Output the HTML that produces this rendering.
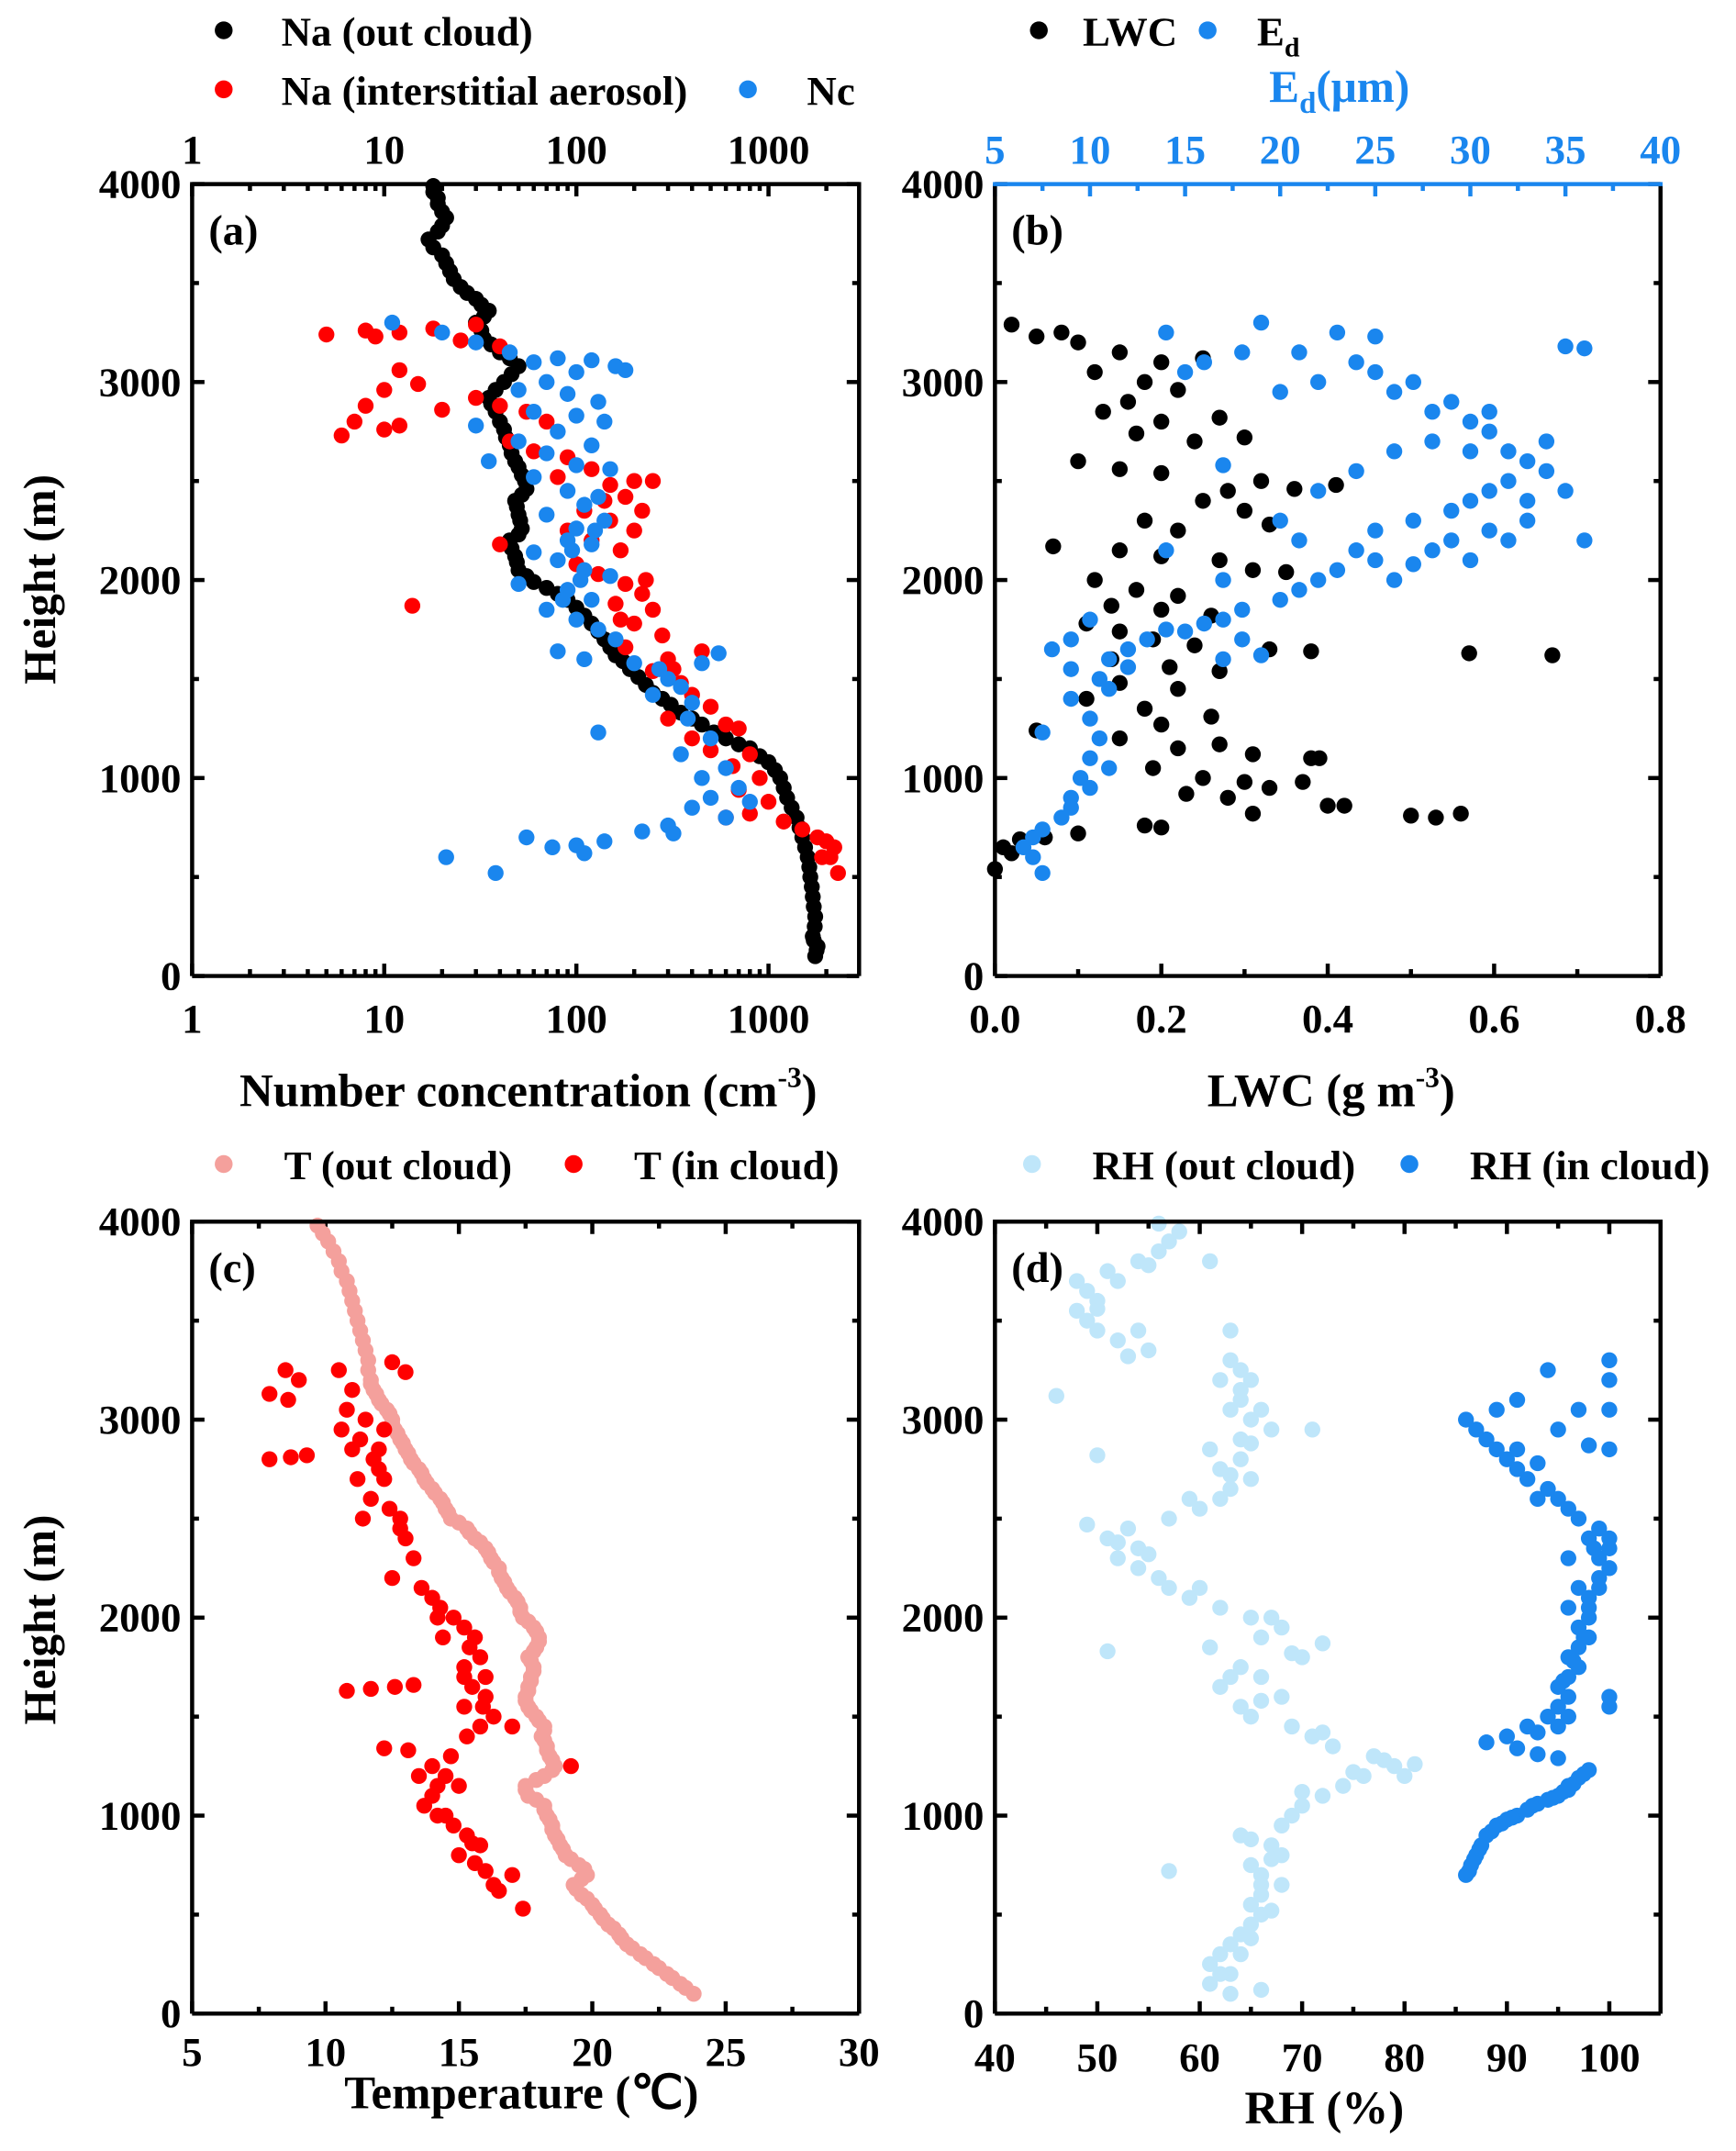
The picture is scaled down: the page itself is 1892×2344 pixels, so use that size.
<!DOCTYPE html>
<html><head><meta charset="utf-8">
<style>
html,body{margin:0;padding:0;background:#fff;}
svg{display:block;font-family:"Liberation Serif",serif;font-weight:bold;}
</style></head>
<body>
<svg id="chart" width="1892" height="2344" viewBox="0 0 1265 1567" xmlns="http://www.w3.org/2000/svg">
<g id="legends">
  <circle cx="163" cy="22" r="6.5" fill="#000"/>
  <text x="205" y="33" font-size="30">Na (out cloud)</text>
  <circle cx="163" cy="65" r="6.5" fill="#ff0000"/>
  <text x="205" y="76" font-size="30">Na (interstitial aerosol)</text>
  <circle cx="545" cy="65" r="6.5" fill="#1a86ee"/>
  <text x="588" y="76" font-size="30">Nc</text>
  <circle cx="757" cy="22" r="6.5" fill="#000"/>
  <text x="789" y="33" font-size="30">LWC</text>
  <circle cx="880" cy="22" r="6.5" fill="#1a86ee"/>
  <text x="916" y="33" font-size="30">E<tspan font-size="20" dy="8">d</tspan></text>
  <text x="976" y="74" font-size="33" fill="#1a86ee" text-anchor="middle">E<tspan font-size="22" dy="8">d</tspan><tspan dy="-8">(μm)</tspan></text>
  <circle cx="163" cy="848" r="6.5" fill="#f4a09c"/>
  <text x="207" y="859" font-size="30">T (out cloud)</text>
  <circle cx="418" cy="848" r="6.5" fill="#ff0000"/>
  <text x="462" y="859" font-size="30">T (in cloud)</text>
  <circle cx="752" cy="848" r="6.5" fill="#bfe6fa"/>
  <text x="796" y="859" font-size="30">RH (out cloud)</text>
  <circle cx="1027" cy="848" r="6.5" fill="#1a86ee"/>
  <text x="1071" y="859" font-size="30">RH (in cloud)</text>
</g>
</svg>
<script>
// ---- data (value, height m) ----
const naOut=[[1750,100],[1780,130],[1800,150],[1720,180],[1700,200],[1740,250],[1750,300],[1720,350],[1700,400],[1680,450],[1650,500],[1630,550],[1600,600],[1550,650],[1500,700],[1450,750],[1400,800],[1320,850],[1250,900],[1200,950],[1150,1000],[1080,1040],[1000,1080],[900,1110],[800,1150],[700,1170],[600,1200],[520,1230],[450,1270],[400,1300],[350,1330],[310,1370],[280,1400],[250,1430],[230,1470],[210,1510],[190,1550],[175,1590],[160,1620],[150,1660],[140,1700],[130,1740],[120,1780],[110,1820],[100,1860],[90,1900],[80,1930],[70,1960],[60,1990],[55,2020],[50,2050],[49,2090],[48,2120],[46,2160],[45,2200],[50,2230],[52,2260],[51,2300],[50,2330],[49,2370],[48,2400],[52,2430],[55,2460],[54,2500],[52,2530],[50,2570],[48,2600],[46,2640],[45,2680],[43,2720],[42,2760],[40,2800],[38,2850],[36,2890],[35,2920],[38,2960],[42,3000],[46,3040],[50,3080],[45,3120],[40,3150],[36,3190],[33,3220],[32,3260],[30,3300],[33,3330],[35,3360],[32,3390],[30,3420],[27,3450],[25,3480],[23,3520],[22,3560],[21,3600],[20,3640],[18,3680],[17,3720],[19,3760],[20,3790],[21,3830],[20,3860],[19,3900],[19,3930],[18,3960],[18,3990]];
const naInt=[[5,3240],[8,3260],[9,3230],[12,3250],[18,3270],[25,3210],[30,3290],[40,3180],[12,3060],[15,2990],[10,2960],[8,2880],[7,2800],[10,2760],[6,2730],[12,2780],[20,2860],[30,2920],[40,2880],[55,2850],[70,2800],[45,2700],[60,2650],[90,2620],[120,2560],[80,2520],[150,2480],[200,2500],[250,2500],[180,2420],[220,2350],[150,2300],[200,2250],[120,2200],[170,2150],[40,2180],[100,2080],[130,2030],[180,1980],[220,1930],[160,1880],[250,1850],[14,1870],[200,1780],[280,1720],[180,1660],[300,1600],[450,1640],[250,1540],[350,1480],[400,1420],[500,1360],[300,1300],[600,1270],[700,1250],[400,1200],[500,1140],[800,1120],[650,1060],[900,1000],[700,940],[1000,880],[800,820],[1200,780],[1500,740],[1800,700],[2200,650],[2100,600],[2300,520],[1900,600],[600,800],[2000,680],[140,2400],[110,2350],[230,2000],[170,1800],[320,1550],[90,2250]];
const nc=[[11,3300],[20,3250],[30,3200],[45,3150],[60,3100],[80,3120],[120,3110],[160,3080],[180,3060],[100,3050],[70,3000],[50,2960],[90,2940],[130,2900],[60,2850],[100,2830],[140,2800],[30,2780],[80,2750],[50,2700],[120,2680],[70,2640],[35,2600],[100,2580],[150,2560],[60,2520],[90,2450],[130,2420],[110,2380],[70,2330],[140,2300],[100,2260],[90,2200],[120,2180],[60,2140],[80,2100],[110,2050],[150,2020],[50,1980],[90,1950],[120,1900],[70,1850],[100,1800],[130,1750],[160,1700],[80,1640],[110,1600],[200,1580],[270,1550],[300,1500],[350,1460],[250,1420],[400,1380],[130,1230],[550,1630],[450,1580],[380,1300],[500,1200],[350,1120],[600,1050],[450,1000],[700,950],[500,900],[800,880],[400,850],[600,800],[300,760],[220,730],[140,680],[110,620],[100,660],[75,650],[55,700],[38,520],[21,600],[320,720],[105,2000],[95,2150],[125,2250],[85,1900]];
const lwc=[[0.02,3290],[0.05,3230],[0.08,3250],[0.1,3200],[0.15,3150],[0.2,3100],[0.25,3120],[0.12,3050],[0.18,3000],[0.22,2960],[0.16,2900],[0.13,2850],[0.2,2800],[0.27,2820],[0.17,2740],[0.24,2700],[0.3,2720],[0.1,2600],[0.15,2560],[0.2,2540],[0.32,2500],[0.28,2450],[0.36,2460],[0.41,2480],[0.25,2400],[0.3,2350],[0.18,2300],[0.22,2250],[0.33,2280],[0.07,2170],[0.15,2150],[0.2,2120],[0.27,2100],[0.31,2050],[0.35,2040],[0.12,2000],[0.17,1950],[0.22,1920],[0.14,1870],[0.2,1850],[0.26,1820],[0.11,1780],[0.15,1740],[0.19,1700],[0.24,1670],[0.33,1650],[0.38,1640],[0.57,1630],[0.67,1620],[0.14,1600],[0.21,1560],[0.27,1540],[0.15,1480],[0.22,1450],[0.11,1400],[0.18,1350],[0.26,1310],[0.05,1240],[0.2,1270],[0.15,1200],[0.22,1150],[0.27,1170],[0.31,1120],[0.38,1100],[0.39,1100],[0.19,1050],[0.25,1000],[0.3,980],[0.33,950],[0.37,980],[0.23,920],[0.28,900],[0.4,860],[0.42,860],[0.31,820],[0.5,810],[0.53,800],[0.56,820],[0.18,760],[0.2,750],[0.1,720],[0.03,690],[0.01,650],[0.02,620],[0.0,540],[0.06,700]];
const ed=[[7.5,1230],[8,1650],[9,1700],[10,1800],[9,1550],[9,1400],[10,1300],[10.5,1200],[10,1100],[9.5,1000],[9,900],[8.5,800],[7.5,740],[7,700],[6.5,650],[7,600],[7.5,520],[9,850],[10,950],[11,1050],[10.5,1500],[11,1600],[12,1650],[13,1700],[12,1560],[11,1450],[14,1750],[15,1740],[16,1780],[17,1800],[18,1850],[17,1600],[19,1620],[18,1700],[20,1900],[21,1950],[22,2000],[23,2050],[25,2100],[26,2000],[27,2080],[28,2150],[30,2100],[29,2200],[31,2250],[32,2200],[33,2300],[29,2350],[30,2400],[31,2450],[32,2500],[34,2550],[35,2450],[33,2600],[32,2650],[34,2700],[31,2750],[30,2800],[28,2850],[29,2900],[26,2950],[27,3000],[25,3050],[24,3100],[22,3000],[20,2950],[21,3150],[23,3250],[25,3230],[19,3300],[18,3150],[15,3050],[16,3100],[14,3250],[17,2580],[17,2000],[20,2300],[22,2450],[24,2550],[26,2650],[28,2700],[30,2650],[33,2400],[36,2200],[35,3180],[36,3170],[31,2850],[27,2300],[25,2250],[24,2150],[21,2200],[14,2150]];
const tOut=[[23.8,100],[23.5,130],[23.3,150],[23,180],[22.8,200],[22.5,230],[22.3,250],[22,280],[21.8,300],[21.5,330],[21.3,350],[21.1,380],[21,400],[20.8,430],[20.6,450],[20.4,480],[20.3,500],[20.1,530],[20,550],[19.8,580],[19.6,600],[19.4,630],[19.3,650],[19.6,680],[19.8,700],[19.7,730],[19.5,750],[19.2,780],[19,800],[18.9,830],[18.8,850],[18.7,880],[18.6,900],[18.5,930],[18.5,950],[18.4,980],[18.3,1000],[18.2,1030],[18.2,1050],[17.9,1080],[17.6,1100],[17.5,1130],[17.5,1150],[17.9,1180],[18.2,1200],[18.5,1230],[18.6,1250],[18.5,1280],[18.4,1300],[18.3,1330],[18.3,1350],[18.2,1380],[18.1,1400],[18.2,1430],[18.2,1450],[18,1480],[17.9,1500],[17.7,1530],[17.6,1550],[17.5,1580],[17.5,1600],[17.6,1630],[17.6,1650],[17.7,1680],[17.7,1700],[17.8,1730],[17.8,1750],[17.7,1780],[17.6,1800],[17.8,1830],[17.9,1850],[18,1880],[18,1900],[17.9,1930],[17.8,1950],[17.6,1980],[17.4,2000],[17.3,2030],[17.3,2050],[17.2,2080],[17.1,2100],[16.9,2130],[16.8,2150],[16.7,2180],[16.6,2200],[16.5,2230],[16.5,2250],[16.3,2280],[16.2,2300],[16.1,2330],[16,2350],[15.8,2380],[15.6,2400],[15.4,2430],[15.3,2450],[15,2480],[14.7,2500],[14.6,2530],[14.5,2550],[14.4,2580],[14.3,2600],[14.1,2630],[14,2650],[13.8,2680],[13.7,2700],[13.6,2730],[13.5,2750],[13.3,2780],[13.2,2800],[13.1,2830],[13,2850],[12.9,2880],[12.8,2900],[12.7,2930],[12.6,2950],[12.5,2980],[12.5,3000],[12.4,3030],[12.3,3050],[12.1,3080],[12,3100],[11.9,3130],[11.8,3150],[11.7,3180],[11.7,3200],[11.6,3250],[11.6,3300],[11.5,3350],[11.4,3400],[11.3,3450],[11.2,3500],[11.1,3550],[11,3600],[10.9,3650],[10.8,3700],[10.6,3750],[10.5,3800],[10.3,3850],[10.1,3900],[9.9,3940],[9.7,3980]];
const tIn=[[8.5,3250],[9,3200],[7.9,3130],[8.6,3100],[10.5,3250],[11,3150],[12.5,3290],[13,3240],[10.8,3050],[11.5,3000],[10.6,2950],[11.3,2900],[12,2850],[11.8,2800],[7.9,2800],[8.7,2810],[9.3,2820],[11.2,2700],[12.2,2700],[11.7,2600],[12.4,2550],[11.4,2500],[12.8,2450],[13,2400],[13.3,2300],[12.5,2200],[13.6,2150],[14,2100],[14.3,2050],[14.8,2000],[15.2,1950],[14.4,1900],[15.4,1850],[15.8,1800],[15.2,1750],[16,1700],[15.5,1650],[10.8,1630],[11.7,1640],[12.6,1650],[13.3,1660],[16,1600],[15.2,1550],[16.3,1500],[15.8,1450],[17,1450],[15.3,1400],[12.2,1340],[13.1,1330],[14.7,1300],[14,1250],[19.2,1250],[13.5,1200],[14.2,1150],[14,1100],[13.7,1050],[14.2,1000],[14.8,950],[15.3,900],[15.8,850],[15,800],[15.6,760],[16,720],[17,700],[16.3,650],[16.5,620],[17.4,530],[15.5,860],[14.5,1000],[12,2750],[12.8,2500],[14.2,2000],[15.6,1900],[15.9,1550],[14.5,1200],[15,1150],[15.2,1700],[11,2850],[12.2,2950]];
const rhOut=[[63,100],[61,150],[63,200],[61,250],[62,300],[63,350],[64,400],[65,450],[66,500],[65,550],[66,600],[68,650],[66,700],[65,750],[68,800],[67,850],[64,900],[68,950],[69,1000],[70,1050],[72,1100],[74,1150],[76,1200],[79,1250],[81,1260],[77,1300],[73,1350],[71,1400],[69,1450],[65,1500],[64,1550],[68,1600],[62,1650],[66,1700],[64,1750],[70,1800],[72,1870],[61,1850],[66,1900],[68,1950],[67,2000],[62,2050],[59,2100],[57,2150],[56,2200],[54,2250],[52,2300],[54,2350],[51,2400],[53,2450],[57,2500],[60,2550],[62,2600],[63,2650],[65,2700],[62,2750],[64,2800],[61,2850],[64,2900],[67,2950],[71,2950],[65,3000],[66,3050],[64,3100],[64,3150],[65,3200],[64,3250],[63,3300],[53,3320],[55,3350],[52,3400],[50,3450],[49,3500],[48,3550],[50,3600],[49,3650],[48,3700],[51,3750],[54,3800],[56,3850],[57,3900],[58,3950],[56,3990],[61,3800],[63,3450],[46,3120],[50,2820],[49,2470],[51,1830],[57,720],[66,120],[62,200],[64,300],[65,380],[67,520],[66,650],[67,780],[65,880],[70,1120],[75,1220],[78,1280],[80,1200],[72,1420],[66,1580],[63,1700],[69,1820],[65,2000],[60,2150],[55,2320],[52,2380],[59,2600],[63,2720],[65,2880],[63,3050],[62,3200],[54,3450],[50,3560],[52,3700],[55,3780]];
const rhIn=[[86,700],[86.5,750],[87,800],[87.5,850],[88,900],[89,950],[90,980],[91,1000],[92,1030],[93,1060],[94,1080],[95,1100],[96,1130],[96.5,1160],[97,1190],[98,1230],[95,1290],[93,1310],[91,1340],[88,1370],[90,1400],[93,1420],[95,1450],[94,1500],[95,1550],[96,1600],[95,1650],[96,1700],[97,1750],[96,1800],[97,1850],[98,1900],[97,1950],[98,2000],[96,2050],[98,2100],[97,2150],[99,2200],[100,2250],[99,2300],[100,2350],[98,2400],[99,2450],[97,2500],[96,2550],[95,2600],[94,2650],[92,2700],[91,2750],[90,2800],[89,2850],[88,2900],[87,2950],[86,3000],[89,3050],[91,3100],[94,3250],[97,3050],[100,3200],[100,3300],[100,3050],[100,2850],[98,2870],[100,1600],[100,1550],[95,2950],[96,2300],[93,2780],[92,1450],[86.3,720],[86.8,780],[87.3,830],[88.5,920],[89.5,960],[90.5,990],[92.5,1050],[94.5,1090],[95.5,1120],[97.5,1210],[96,1150],[95.5,1680],[96.5,1780],[97.5,1900],[98,2050],[99,2150],[98.5,2350],[100,2400],[93,2600],[91,2850],[96,1500]];
const heightTicks=[0,1000,2000,3000,4000];
const logTicks=[1,10,100,1000];
const lwcTicks=[0.0,0.2,0.4,0.6,0.8];
const edTicks=[5,10,15,20,25,30,35,40];
const tempTicks=[5,10,15,20,25,30];
const rhTicks=[40,50,60,70,80,90,100];

const NS="http://www.w3.org/2000/svg";
const svg=document.getElementById('chart');
function mk(tag,attrs,parent){const e=document.createElementNS(NS,tag);for(const k in attrs)e.setAttribute(k,attrs[k]);(parent||svg).appendChild(e);return e;}

function panel(id,x0,x1,yTop,yBot,xs,label){
  const g=mk('g',{});
  
  
  const ys=h=>yBot-(h/4000)*(yBot-yTop);
  for(let h=0;h<=4000;h+=500){
    const major=h%1000===0, L=major?9:5, y=ys(h);
    mk('line',{x1:x0,x2:x0+L,y1:y,y2:y,stroke:'#000','stroke-width':3},g);
    mk('line',{x1:x1,x2:x1-L,y1:y,y2:y,stroke:'#000','stroke-width':3},g);
  }
  heightTicks.forEach(h=>{
    const t=mk('text',{x:x0-8,y:ys(h)+10,'font-size':30,'text-anchor':'end'},g);
    
    
    t.textContent=h;
  });
  const lt=mk('text',{x:x0+12,y:yTop+44,'font-size':31},g);
  
  
  lt.textContent=label;
  return {g,ys};
}
function frame(g,x0,x1,yTop,yBot,topColor){
  mk('line',{x1:x0,x2:x1,y1:yBot,y2:yBot,stroke:'#000','stroke-width':3},g);
  mk('line',{x1:x0,x2:x0,y1:yTop,y2:yBot,stroke:'#000','stroke-width':3},g);
  mk('line',{x1:x1,x2:x1,y1:yTop,y2:yBot,stroke:'#000','stroke-width':3},g);
  mk('line',{x1:x0-1.5,x2:x1+1.5,y1:yTop,y2:yTop,stroke:topColor||'#000','stroke-width':3},g);
}
function dots(g,data,xs,ys,color,name){
  const gg=mk('g',{fill:color},g);
  
  
  data.forEach(d=>{
    const c=mk('circle',{cx:xs(d[0]),cy:ys(d[1]),r:5.8},gg);
    
    
  });
}
function xlabel(g,x,y,txt,name,color){
  const t=mk('text',{x:x,y:y,'font-size':30,'text-anchor':'middle',fill:color||'#000'},g);
  
  
  t.textContent=txt;
}
function ylabel(cy){
  const t=mk('text',{x:0,y:0,'font-size':33,'text-anchor':'middle',transform:`translate(40,${cy}) rotate(-90)`});
  
  
  t.textContent='Height (m)';
}

// Panel a
(function(){
  const x0=140,x1=626,yT=134,yB=711;
  const xs=v=>x0+Math.log10(v)*140;
  const {g,ys}=panel('a',x0,x1,yT,yB,xs,'(a)');
  for(let d=0;d<4;d++)for(let m=1;m<10;m++){
    const v=m*Math.pow(10,d); const x=xs(v); if(x>x1)continue;
    const L=m===1?9:5;
    mk('line',{x1:x,x2:x,y1:yB,y2:yB-L,stroke:'#000','stroke-width':3},g);
    mk('line',{x1:x,x2:x,y1:yT,y2:yT+L,stroke:'#000','stroke-width':3},g);
  }
  logTicks.forEach(v=>{xlabel(g,xs(v),752,v,'x-tick-label');xlabel(g,xs(v),119,v,'x-top-tick-label');});
  dots(g,naOut,xs,ys,'#000','series-na-out-cloud');
  dots(g,naInt,xs,ys,'#ff0000','series-na-interstitial');
  dots(g,nc,xs,ys,'#1a86ee','series-nc');
  frame(g,x0,x1,yT,yB);
  const t=mk('text',{x:385,y:806,'font-size':34,'text-anchor':'middle'},g);
  
  
  t.innerHTML='Number concentration (cm<tspan font-size="21" dy="-14">-3</tspan><tspan dy="14">)</tspan>';
  ylabel(422);
})();
// Panel b
(function(){
  const x0=725,x1=1210,yT=134,yB=711;
  const xs=v=>x0+v/0.8*(x1-x0);
  const xe=v=>x0+(v-5)/35*(x1-x0);
  const {g,ys}=panel('b',x0,x1,yT,yB,xs,'(b)');
  for(let i=0;i<=8;i++){const x=xs(i/10);const L=i%2===0?9:5;mk('line',{x1:x,x2:x,y1:yB,y2:yB-L,stroke:'#000','stroke-width':3},g);}
  for(let v=5;v<=40;v+=2.5){const x=xe(v);const L=v%5===0?9:5;mk('line',{x1:x,x2:x,y1:yT,y2:yT+L,stroke:'#1a86ee','stroke-width':3},g);}
  lwcTicks.forEach(v=>xlabel(g,xs(v),752,v.toFixed(1),'x-tick-label'));
  edTicks.forEach(v=>xlabel(g,xe(v),119,v,'ed-tick-label','#1a86ee'));
  dots(g,lwc,xs,ys,'#000','series-lwc');
  dots(g,ed,xe,ys,'#1a86ee','series-ed');
  frame(g,x0,x1,yT,yB,'#1a86ee');
  const t=mk('text',{x:970,y:806,'font-size':34,'text-anchor':'middle'},g);
  
  
  t.innerHTML='LWC (g m<tspan font-size="21" dy="-14">-3</tspan><tspan dy="14">)</tspan>';
})();
// Panel c
(function(){
  const x0=140,x1=626,yT=890,yB=1467;
  const xs=v=>x0+(v-5)/25*(x1-x0);
  const {g,ys}=panel('c',x0,x1,yT,yB,xs,'(c)');
  for(let v=5;v<=30;v+=2.5){const x=xs(v);const L=v%5===0?9:5;mk('line',{x1:x,x2:x,y1:yB,y2:yB-L,stroke:'#000','stroke-width':3},g);mk('line',{x1:x,x2:x,y1:yT,y2:yT+L,stroke:'#000','stroke-width':3},g);}
  tempTicks.forEach(v=>xlabel(g,xs(v),1505,v,'x-tick-label'));
  dots(g,tOut,xs,ys,'#f4a09c','series-t-out-cloud');
  dots(g,tIn,xs,ys,'#ff0000','series-t-in-cloud');
  frame(g,x0,x1,yT,yB);
  const t=mk('text',{x:380,y:1536,'font-size':34,'text-anchor':'middle'},g);
  
  
  t.textContent='Temperature (℃)';
  ylabel(1180);
})();
// Panel d
(function(){
  const x0=725,x1=1210,yT=890,yB=1467;
  const xs=v=>x0+(v-40)/65*(x1-x0);
  const {g,ys}=panel('d',x0,x1,yT,yB,xs,'(d)');
  for(let v=40;v<=105;v+=5){const x=xs(v);const L=v%10===0?9:5;mk('line',{x1:x,x2:x,y1:yB,y2:yB-L,stroke:'#000','stroke-width':3},g);mk('line',{x1:x,x2:x,y1:yT,y2:yT+L,stroke:'#000','stroke-width':3},g);}
  rhTicks.forEach(v=>xlabel(g,xs(v),1509,v,'x-tick-label'));
  dots(g,rhOut,xs,ys,'#bfe6fa','series-rh-out-cloud');
  dots(g,rhIn,xs,ys,'#1a86ee','series-rh-in-cloud');
  frame(g,x0,x1,yT,yB);
  const t=mk('text',{x:965,y:1547,'font-size':34,'text-anchor':'middle'},g);
  
  
  t.textContent='RH (%)';
})();
</script>
</body></html>
